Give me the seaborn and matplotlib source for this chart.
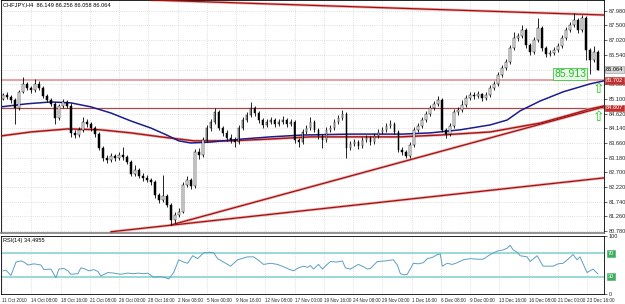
import numpy as np
import pandas as pd
import matplotlib
matplotlib.use("Agg")
import matplotlib.pyplot as plt
import matplotlib.transforms as mtrans
import seaborn as sns

# ---------------- data ----------------
first_open = 85.10
closes = [85.23, 85.16, 85.07, 84.80, 85.33, 85.59, 85.46, 85.39, 85.59, 85.46,
          85.20, 85.07, 84.94, 84.48, 84.87, 85.00, 84.87, 83.99, 83.92, 84.09,
          84.35, 84.28, 84.15, 83.95, 83.50, 83.17, 83.11, 83.24, 83.17, 83.27,
          83.20, 83.04, 82.65, 82.78, 82.58, 82.52, 82.45, 82.39, 81.96, 81.80,
          81.93, 81.64, 81.15, 81.31, 81.41, 82.29, 82.45, 82.26, 83.37, 83.27,
          83.76, 84.15, 84.35, 84.67, 84.15, 83.99, 83.82, 83.76, 83.69, 84.15,
          84.41, 84.58, 84.80, 84.64, 84.41, 84.25, 84.35, 84.41, 84.28, 84.35,
          84.41, 84.28, 84.35, 83.76, 83.69, 84.02, 84.15, 84.35, 84.09, 83.89,
          83.76, 84.09, 84.15, 84.35, 84.48, 84.61, 83.50, 83.63, 83.69, 83.56,
          83.76, 83.82, 83.69, 83.89, 84.02, 84.09, 84.22, 84.28, 84.02, 83.43,
          83.37, 83.24, 83.60, 84.09, 84.22, 84.41, 84.61, 84.80, 84.94, 85.07,
          84.09, 83.95, 84.22, 84.67, 84.74, 84.90, 85.13, 85.23, 85.20, 85.26,
          85.13, 85.23, 85.46, 85.59, 85.88, 86.11, 86.31, 86.76, 87.09, 87.15,
          87.35, 86.86, 86.63, 87.02, 87.42, 86.76, 86.57, 86.60, 86.70, 86.83,
          87.09, 87.35, 87.51, 87.68, 87.35, 87.74, 86.70, 86.37, 86.63, 86.06]
highs = [85.30, 85.33, 85.22, 85.12, 85.40, 85.82, 85.66, 85.52, 85.75, 85.69,
         85.52, 85.26, 85.13, 85.00, 84.94, 85.10, 85.07, 84.97, 84.09, 84.18,
         84.51, 84.45, 84.35, 84.22, 84.02, 83.56, 83.27, 83.33, 83.30, 83.37,
         83.53, 83.27, 83.11, 82.94, 82.85, 82.68, 82.62, 82.52, 82.45, 82.03,
         82.62, 82.00, 81.70, 81.41, 81.54, 82.39, 82.58, 82.52, 83.47, 83.50,
         83.86, 84.25, 84.45, 84.80, 84.74, 84.22, 84.09, 83.95, 83.86, 84.25,
         84.51, 84.67, 85.00, 84.87, 84.70, 84.48, 84.45, 84.51, 84.48, 84.45,
         84.55, 84.48, 84.45, 84.41, 83.82, 84.12, 84.25, 84.51, 84.41, 84.15,
         83.95, 84.18, 84.25, 84.45, 84.58, 84.74, 84.67, 83.73, 83.79, 83.76,
         83.86, 83.92, 83.89, 83.99, 84.12, 84.18, 84.31, 84.41, 84.35, 84.09,
         83.53, 83.43, 83.69, 84.18, 84.31, 84.51, 84.70, 84.90, 85.03, 85.20,
         85.13, 84.15, 84.31, 84.77, 84.84, 85.07, 85.23, 85.33, 85.33, 85.36,
         85.30, 85.33, 85.55, 85.69, 85.98, 86.21, 86.40, 86.86, 87.29, 87.25,
         87.51, 87.42, 86.93, 87.12, 87.74, 87.48, 86.83, 86.70, 86.80, 86.93,
         87.19, 87.45, 87.61, 87.91, 87.74, 87.84, 87.81, 86.76, 86.83, 86.70]
lows = [85.05, 85.10, 84.98, 84.28, 84.74, 85.28, 85.40, 85.30, 85.33, 85.40,
        85.13, 85.00, 84.87, 84.28, 84.41, 84.80, 84.80, 83.86, 83.82, 83.86,
        84.02, 84.18, 84.05, 83.86, 83.43, 83.08, 83.01, 83.04, 83.08, 83.11,
        83.11, 82.97, 82.58, 82.58, 82.52, 82.42, 82.39, 82.29, 81.86, 81.70,
        81.73, 81.57, 80.98, 81.05, 81.25, 81.37, 82.22, 82.16, 82.19, 83.14,
        83.20, 83.69, 84.05, 84.28, 84.09, 83.89, 83.73, 83.66, 83.53, 83.63,
        84.09, 84.35, 84.51, 84.55, 84.31, 84.15, 84.18, 84.28, 84.18, 84.22,
        84.28, 84.18, 84.22, 83.66, 83.53, 83.63, 83.95, 84.09, 84.02, 83.79,
        83.50, 83.69, 84.02, 84.09, 84.28, 84.41, 83.17, 83.43, 83.56, 83.47,
        83.50, 83.69, 83.60, 83.63, 83.82, 83.95, 84.02, 84.15, 83.95, 83.37,
        83.27, 83.17, 83.17, 83.53, 84.02, 84.15, 84.35, 84.55, 84.74, 84.87,
        84.02, 83.82, 83.89, 84.15, 84.58, 84.67, 84.84, 85.07, 85.10, 85.13,
        85.03, 85.07, 85.16, 85.39, 85.52, 85.82, 86.04, 86.24, 86.70, 86.99,
        87.09, 86.76, 86.53, 86.57, 86.96, 86.66, 86.47, 86.50, 86.53, 86.63,
        86.76, 87.02, 87.29, 87.45, 87.25, 87.29, 86.37, 85.91, 86.31, 86.04]

# moving averages (bar position, price)
blue_ma_t = [-0.5, 6, 12, 17, 22, 27, 32, 37, 41, 44, 47, 52, 60, 67, 75, 87,
             100, 107, 114.5, 122, 126.25, 129.5, 134.5, 140.25, 147, 150.5]
blue_ma = [84.84, 84.94, 85.00, 84.97, 84.84, 84.64, 84.38, 84.15, 83.92, 83.73,
           83.66, 83.69, 83.79, 83.86, 83.92, 83.95, 83.95, 83.99, 84.09, 84.25,
           84.41, 84.71, 85.03, 85.33, 85.59, 85.69]
red_ma_t = [-0.5, 7, 16.25, 24.5, 32, 39.5, 47.75, 57, 67, 77, 87, 99.5, 109.5,
            122, 134.5, 142, 147, 150.5]
red_ma = [83.89, 84.02, 84.12, 84.09, 83.99, 83.86, 83.73, 83.73, 83.79, 83.86,
          83.86, 83.86, 83.92, 84.02, 84.31, 84.58, 84.77, 84.87]

# trend lines (bar position, price)
top_line_t = [37, 150.5]
top_line_p = [88.33, 87.84]
rise_a_t = [42, 150.5]
rise_a_p = [80.98, 84.84]
rise_b_t = [27, 150.5]
rise_b_p = [80.76, 82.52]
resist_level = 85.702
support_level = 84.807
last_price = 86.064
swing_low = 85.913

# RSI(14)
rsi_t = [0, 0.75, 2, 3.25, 4.5, 5.25, 6.25, 7.75, 9.5, 10.25, 12, 13.25, 14, 15.25,
         16.25, 17, 18.75, 19.5, 20.25, 21.5, 22.75, 23.75, 24.5, 26.25, 27.75,
         29.5, 31.25, 32.75, 33.75, 35.25, 36.25, 37.75, 39.5, 40.75, 41.5, 42.75,
         44, 45.25, 46.25, 47.5, 48.75, 50.25, 51.5, 52.75, 53.75, 55.25, 57,
         58.75, 60.25, 61.25, 62.75, 64, 65.25, 67, 68.75, 70.25, 71.5, 72.75, 74,
         75.25, 76.25, 77, 77.75, 79, 80, 81, 82, 83.5, 85, 85.75, 87, 89, 90.25,
         91.25, 92, 93.75, 95.75, 97.75, 98.75, 99.5, 100.5, 101.25, 102.75, 104,
         105.25, 106.25, 107.5, 108.75, 109.5, 110, 111.25, 112.5, 113.75, 115.25,
         117, 118.75, 120.25, 122, 123.75, 125.25, 126.25, 127, 127.75, 128.75,
         129.5, 131.25, 132, 133.75, 135.25, 136.5, 137.75, 139, 140.25, 141.5,
         142.75, 143.75, 144.5, 146.25, 147.75, 149]
rsi_vals = [40, 41, 32, 55, 57, 55, 50, 52, 50, 42, 43, 28, 43, 44, 40, 34, 35, 45,
            44, 40, 42, 39, 31, 37, 36, 34, 36, 35, 36, 35, 36, 29, 30, 28, 26, 37,
            59, 55, 53, 66, 61, 71, 72, 71, 61, 55, 48, 59, 62, 64, 64, 58, 51, 53,
            51, 47, 43, 40, 45, 48, 46, 49, 43, 51, 43, 50, 56, 55, 57, 45, 43, 51,
            47, 43, 44, 56, 57, 59, 50, 35, 33, 34, 53, 52, 54, 61, 63, 68, 69, 48,
            53, 51, 54, 59, 61, 60, 60, 68, 74, 76, 79, 84, 76, 72, 66, 64, 56, 66,
            48, 48, 48, 52, 53, 60, 68, 59, 64, 37, 43, 34.5]

date_labels = ["11 Oct 2010", "14 Oct 08:00", "18 Oct 16:00", "21 Oct 08:00",
               "26 Oct 00:00", "28 Oct 16:00", "2 Nov 08:00", "5 Nov 00:00",
               "9 Nov 16:00", "12 Nov 08:00", "17 Nov 00:00", "19 Nov 16:00",
               "24 Nov 08:00", "29 Nov 00:00", "1 Dec 16:00", "6 Dec 08:00",
               "9 Dec 00:00", "13 Dec 16:00", "16 Dec 08:00", "21 Dec 00:00",
               "23 Dec 16:00"]
date_pos = [-0.25, 7.1, 14.4, 21.7, 29.05, 36.4, 43.7, 51.0, 58.35, 65.7, 73.0,
            80.3, 87.65, 95.0, 102.3, 109.6, 116.95, 124.3, 131.6, 138.9, 146.25]
price_ticks = [80.78, 81.26, 81.74, 82.22, 82.70, 83.18, 83.66, 84.14, 84.62,
               85.10, 85.58, 86.06, 86.54, 87.02, 87.50, 87.98]

# ---------------- figure ----------------
sns.set_style("white")
plt.rcParams['font.family'] = ['Liberation Sans', 'DejaVu Sans']
FS = 4.1

fig = plt.figure(figsize=(6.25, 3.04), dpi=100)
W, H = 625.0, 304.0
ax = fig.add_axes([1 / W, 71 / H, 603 / W, 233 / H])
ax2 = fig.add_axes([1 / W, 10 / H, 603 / W, 58 / H])

n = len(closes)
idx = np.arange(n)
opens = np.array([first_open] + closes[:-1])
cl = np.array(closes)
df = pd.DataFrame({"t": idx, "open": opens, "close": cl,
                   "high": highs, "low": lows})

grid_kw = dict(color='#c4c4c4', linestyle=(0, (1, 2)), linewidth=0.5)

# main panel
ax.set_xlim(-0.5, 150.5)
ax.set_ylim(80.72, 88.33)
ax.set_xticks(date_pos)
ax.set_xticklabels([])
ax.tick_params(axis='x', length=0)
ax.yaxis.tick_right()
ax.set_yticks(price_ticks)
ax.set_yticklabels(["" if abs(p - last_price) < 0.1 else f"{p:.3f}" for p in price_ticks])
ax.tick_params(axis='y', length=2, width=0.5, pad=1.2, labelsize=FS)
ax.grid(True, **grid_kw)
ax.set_axisbelow(True)

# horizontal levels
ax.axhline(resist_level, color='#e6a3a3', lw=1.4, zorder=2)
ax.axhline(support_level, color='#a84848', lw=0.9, zorder=2)

# trend lines
for tt, pp in [(top_line_t, top_line_p), (rise_a_t, rise_a_p), (rise_b_t, rise_b_p)]:
    sns.lineplot(x=tt, y=pp, ax=ax, color='#f0b0b0', lw=2.0, zorder=2)
    sns.lineplot(x=tt, y=pp, ax=ax, color='#a01010', lw=0.9, zorder=3)

# moving averages
sns.lineplot(x=red_ma_t, y=red_ma, ax=ax, color='#f0b0b0', lw=2.0, zorder=2)
sns.lineplot(x=red_ma_t, y=red_ma, ax=ax, color='#a51515', lw=1.0, zorder=3)
sns.lineplot(x=blue_ma_t, y=blue_ma, ax=ax, color='#1c1c8e', lw=1.1, zorder=3)

# candles
bull = df["close"] >= df["open"]
ax.vlines(df["t"], df["low"], df["high"], color='black', lw=0.6, zorder=4)
body_lo = np.minimum(df["open"], df["close"])
body_h = np.maximum(np.abs(df["close"] - df["open"]), 0.012)
ax.bar(df["t"], body_h, bottom=body_lo, width=0.42,
       color=np.where(bull, 'white', 'black'), edgecolor='black',
       linewidth=0.35, zorder=5)

for s in ax.spines.values():
    s.set_color('black')
    s.set_linewidth(0.6)
ax.spines['bottom'].set_color('#808080')
ax.spines['bottom'].set_linewidth(1.2)
ax.set_xlabel("")
ax.set_ylabel("")

# header
ax.text(0.004, 0.992, "CHFJPY,H4  86.149 86.256 86.058 86.064", transform=ax.transAxes,
        va='top', ha='left', fontsize=FS, color='black', zorder=6)

# right-side price boxes
bt = mtrans.blended_transform_factory(ax.transAxes, ax.transData)
ax.text(1.003, last_price, f"{last_price:.3f}", transform=bt, va='center', ha='left',
        fontsize=FS, color='black', clip_on=False, zorder=10,
        bbox=dict(boxstyle='square,pad=0.15', fc='#d8d8d8', ec='#909090', lw=0.4))
for lvl in (resist_level, support_level):
    ax.text(1.003, lvl, f"{lvl:.3f}", transform=bt, va='center', ha='left',
            fontsize=FS, color='white', clip_on=False, zorder=10,
            bbox=dict(boxstyle='square,pad=0.15', fc='#c03030', ec='#c03030', lw=0.4))

# swing-low annotation and arrows
ax.text(146.0, swing_low, f"{swing_low:.3f}", ha='right', va='center', fontsize=7.5,
        color='#2fb52f', zorder=8,
        bbox=dict(boxstyle='square,pad=0.12', fc='#e6fbe6', ec='#3cc83c', lw=0.6))
for ap in (85.42, 84.50):
    ax.text(149.0, ap, "\u21e7", ha='center', va='center', fontsize=10,
            color='#22cc22', family='DejaVu Sans', zorder=8)

# RSI panel
ax2.set_xlim(-0.5, 150.5)
ax2.set_ylim(0, 100)
ax2.axhline(70, color='#7fd0cc', lw=1.1)
ax2.axhline(30, color='#7fd0cc', lw=1.1)
sns.lineplot(x=rsi_t, y=rsi_vals, ax=ax2, color='#5c9fc4', lw=0.7, zorder=3)
ax2.yaxis.tick_right()
ax2.set_yticks([0, 100])
ax2.set_yticklabels(["0", "100"])
ax2.tick_params(axis='y', length=2, width=0.5, pad=1.2, labelsize=FS)
ax2.set_xticks(date_pos)
ax2.set_xticklabels(date_labels, ha='left', fontsize=3.3)
ax2.tick_params(axis='x', length=2, width=0.5, pad=1)
ax2.grid(True, axis='x', **grid_kw)
ax2.set_xlabel("")
ax2.set_ylabel("")
for s in ax2.spines.values():
    s.set_color('black')
    s.set_linewidth(0.6)
bt2 = mtrans.blended_transform_factory(ax2.transAxes, ax2.transData)
for lv in (70, 30):
    ax2.text(1.006, lv, f"{lv}", transform=bt2, va='center', ha='left', fontsize=FS,
             color='white', clip_on=False,
             bbox=dict(boxstyle='square,pad=0.12', fc='#3cb060', ec='#3cb060', lw=0.4))
ax2.text(0.004, 0.97, "RSI(14) 34.4955", transform=ax2.transAxes, va='top', ha='left',
         fontsize=FS, color='black')

fig.savefig("out.png", dpi=100, facecolor='white')
